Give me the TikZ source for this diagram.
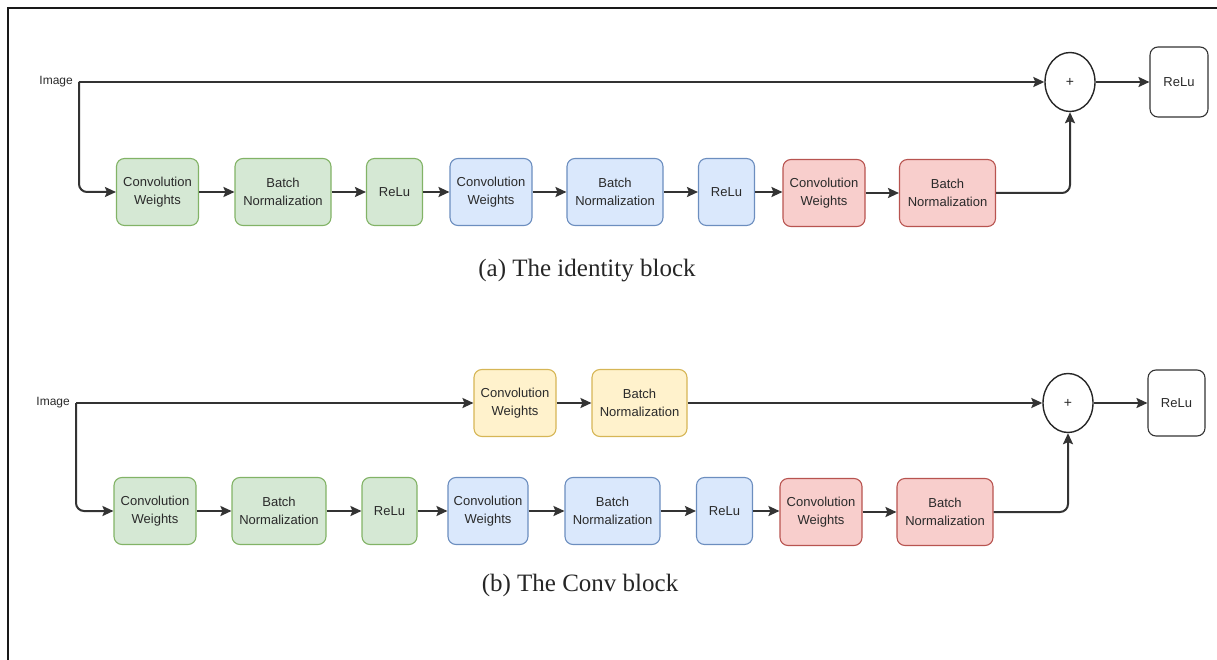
\documentclass[tikz,border=0pt]{standalone}
\usepackage{fontspec}
\setmainfont{Liberation Serif}
\newfontfamily\boxfont{Liberation Sans}
\usetikzlibrary{arrows.meta,shapes.geometric}
\definecolor{gfill}{HTML}{D5E8D4}\definecolor{gline}{HTML}{82B366}
\definecolor{bfill}{HTML}{DAE8FC}\definecolor{bline}{HTML}{6C8EBF}
\definecolor{rfill}{HTML}{F8CECC}\definecolor{rline}{HTML}{B85450}
\definecolor{yfill}{HTML}{FFF2CC}\definecolor{yline}{HTML}{D6B656}
\definecolor{txt}{HTML}{2A2A2A}
\tikzset{
  blk/.style={draw, rounded corners=8pt, line width=1.1pt, align=center,
    font=\boxfont\fontsize{13}{18}\selectfont, text=txt, inner sep=0pt,
    minimum height=67pt},
  gb/.style={blk, fill=gfill, draw=gline},
  bb/.style={blk, fill=bfill, draw=bline},
  rb/.style={blk, fill=rfill, draw=rline},
  yb/.style={blk, fill=yfill, draw=yline},
  wb/.style={blk, fill=white, draw=black!80, minimum height=70pt, minimum width=58pt},
  conv/.style={minimum width=82pt},
  bn/.style={minimum width=96pt},
  rl/.style={minimum width=56pt},
  plus/.style={draw=black!85, line width=1.4pt, ellipse, minimum width=50pt, minimum height=59pt,
    inner sep=0pt, font=\boxfont\fontsize{14}{14}\selectfont, text=txt},
  lbl/.style={font=\boxfont\fontsize{12}{12}\selectfont, text=txt, inner sep=0pt},
  captxt/.style={font=\fontsize{25}{28}\selectfont, text=black!85, inner sep=0pt},
  con/.style={draw=black!80, line width=2pt, -{Stealth[length=11pt,width=10pt,inset=2pt]}},
}
\begin{document}
\begin{tikzpicture}[x=1pt,y=-1pt]
\useasboundingbox (0,0) rectangle (1217,660);
\draw[line width=2pt, black!90] (8,660) -- (8,8) -- (1217,8);

% ---------------- (a) identity block
\node[lbl, anchor=east] (ima) at (73,82) {Image};
\coordinate (sa) at (79,82);
\node[gb, conv] (ca1) at (157.5,192) {Convolution\\Weights};
\node[gb, bn]   (ba1) at (283,192) {Batch\\Normalization};
\node[gb, rl]   (ra1) at (394.5,192) {ReLu};
\node[bb, conv] (ca2) at (491,192) {Convolution\\Weights};
\node[bb, bn]   (ba2) at (615,192) {Batch\\Normalization};
\node[bb, rl]   (ra2) at (726.5,192) {ReLu};
\node[rb, conv] (ca3) at (824,193) {Convolution\\Weights};
\node[rb, bn]   (ba3) at (947.5,193) {Batch\\Normalization};
\node[plus] (pa) at (1070,82) {+};
\node[wb] (oa) at (1179,82) {ReLu};

\draw[con] (sa) -- (pa.west);
\draw[con, rounded corners=8pt] (sa) |- (ca1.west);
\draw[con] (ca1) -- (ba1);
\draw[con] (ba1) -- (ra1);
\draw[con] (ra1) -- (ca2);
\draw[con] (ca2) -- (ba2);
\draw[con] (ba2) -- (ra2);
\draw[con] (ra2.east) -- (ra2.east -| ca3.west);
\draw[con] (ca3) -- (ba3);
\draw[con, rounded corners=8pt] (ba3.east) -| (pa.south);
\draw[con] (pa.east) -- (oa.west);
\node[captxt] (capa) at (587,271) {(a) The identity block};

% ---------------- (b) conv block
\node[lbl, anchor=east] (imb) at (70,403) {Image};
\coordinate (sb) at (76,403);
\node[yb, conv] (cy) at (515,403) {Convolution\\Weights};
\node[yb, bn, minimum width=95pt] (by) at (639.5,403) {Batch\\Normalization};
\node[gb, conv] (cb1) at (155,511) {Convolution\\Weights};
\node[gb, bn, minimum width=94pt] (bb1) at (279,511) {Batch\\Normalization};
\node[gb, rl, minimum width=55pt] (rb1) at (389.5,511) {ReLu};
\node[bb, conv, minimum width=80pt] (cb2) at (488,511) {Convolution\\Weights};
\node[bb, bn, minimum width=95pt] (bb2) at (612.5,511) {Batch\\Normalization};
\node[bb, rl] (rb2) at (724.5,511) {ReLu};
\node[rb, conv] (cb3) at (821,512) {Convolution\\Weights};
\node[rb, bn] (bb3) at (945,512) {Batch\\Normalization};
\node[plus] (pb) at (1068,403) {+};
\node[wb, minimum height=66pt, minimum width=57pt] (ob) at (1176.5,403) {ReLu};

\draw[con] (sb) -- (cy.west);
\draw[con] (cy) -- (by);
\draw[con] (by.east) -- (pb.west);
\draw[con, rounded corners=8pt] (sb) |- (cb1.west);
\draw[con] (cb1) -- (bb1);
\draw[con] (bb1) -- (rb1);
\draw[con] (rb1) -- (cb2);
\draw[con] (cb2) -- (bb2);
\draw[con] (bb2) -- (rb2);
\draw[con] (rb2.east) -- (rb2.east -| cb3.west);
\draw[con] (cb3) -- (bb3);
\draw[con, rounded corners=8pt] (bb3.east) -| (pb.south);
\draw[con] (pb.east) -- (ob.west);
\node[captxt] (capb) at (580,585) {(b) The Conv block};
\end{tikzpicture}
\end{document}
